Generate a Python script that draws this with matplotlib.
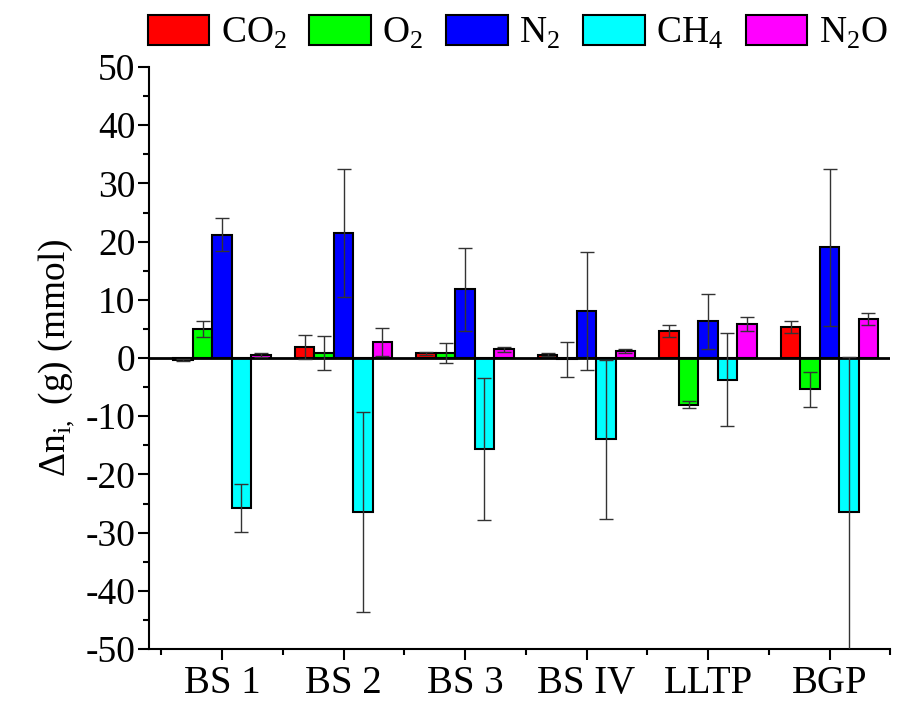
import matplotlib
matplotlib.use("Agg")
import matplotlib.pyplot as plt
import numpy as np
from matplotlib.ticker import MultipleLocator

plt.rcParams['font.family'] = ['Liberation Serif', 'DejaVu Serif']
plt.rcParams['mathtext.fontset'] = 'custom'
plt.rcParams['mathtext.rm'] = 'Liberation Serif'
plt.rcParams['axes.unicode_minus'] = False

groups = ["BS 1", "BS 2", "BS 3", "BS IV", "LLTP", "BGP"]
gases = ["CO$_\\mathregular{2}$", "O$_\\mathregular{2}$", "N$_\\mathregular{2}$",
         "CH$_\\mathregular{4}$", "N$_\\mathregular{2}$O"]
colors = ["#FF0000", "#00FF00", "#0000FF", "#00FFFF", "#FF00FF"]

co2 = [-0.3, 1.9, 0.8, 0.6, 4.6, 5.3]
co2_err = [0.2, 2.0, 0.3, 0.2, 1.0, 1.0]
o2 = [5.0, 0.8, 0.8, -0.2, -8.0, -5.4]
o2_err = [1.4, 2.9, 1.7, 3.0, 0.6, 3.0]
n2 = [21.2, 21.5, 11.8, 8.1, 6.3, 19.0]
n2_err = [2.8, 11.0, 7.1, 10.2, 4.7, 13.5]
ch4 = [-25.8, -26.5, -15.7, -14.0, -3.7, -26.4]
ch4_err = [4.1, 17.2, 12.2, 13.6, 8.0, 26.5]
n2o = [0.5, 2.8, 1.5, 1.2, 5.9, 6.7]
n2o_err = [0.3, 2.4, 0.4, 0.3, 1.2, 1.1]

values = [co2, o2, n2, ch4, n2o]
errors = [co2_err, o2_err, n2_err, ch4_err, n2o_err]

fig = plt.figure(figsize=(9.15, 7.02), dpi=100)
ax = fig.add_axes([0.163, 0.0755, 0.81, 0.829])

x = np.arange(1, len(groups) + 1)
w = 0.16
for k in range(5):
    ax.bar(x + (k - 2) * w, values[k], w, color=colors[k], edgecolor="k",
           linewidth=1.5, label=gases[k], zorder=2)
for k in range(5):
    ax.errorbar(x + (k - 2) * w, values[k], yerr=errors[k], fmt="none",
                ecolor="#333333", elinewidth=1, capsize=5, capthick=1, zorder=4)

ax.axhline(0, color="k", lw=2, zorder=3)

ax.set_xlim(0.4, 6.5)
ax.set_ylim(-50, 50)
ax.set_xticks(x)
ax.set_xticklabels(groups, fontsize=28)
ax.xaxis.set_minor_locator(MultipleLocator(0.5))
ax.yaxis.set_major_locator(MultipleLocator(10))
ax.yaxis.set_minor_locator(MultipleLocator(5))
ax.tick_params(axis="y", labelsize=27, pad=2)
ax.tick_params(which="major", direction="out", length=8, width=1.5)
ax.tick_params(which="minor", direction="out", length=4, width=1.5)

for s in ["top", "right"]:
    ax.spines[s].set_visible(False)
for s in ["left", "bottom"]:
    ax.spines[s].set_linewidth(1.5)

ax.set_ylabel("$\\Delta$n$_\\mathregular{i,}$ (g) (mmol)", fontsize=27, labelpad=6)

ax.legend(loc="lower left", bbox_to_anchor=(-0.035, 0.985), ncol=5, frameon=False,
          fontsize=27, handlelength=1.65, handleheight=0.85, handletextpad=0.3,
          columnspacing=0.6, borderaxespad=0.25)

fig.savefig("out.png", dpi=100)
